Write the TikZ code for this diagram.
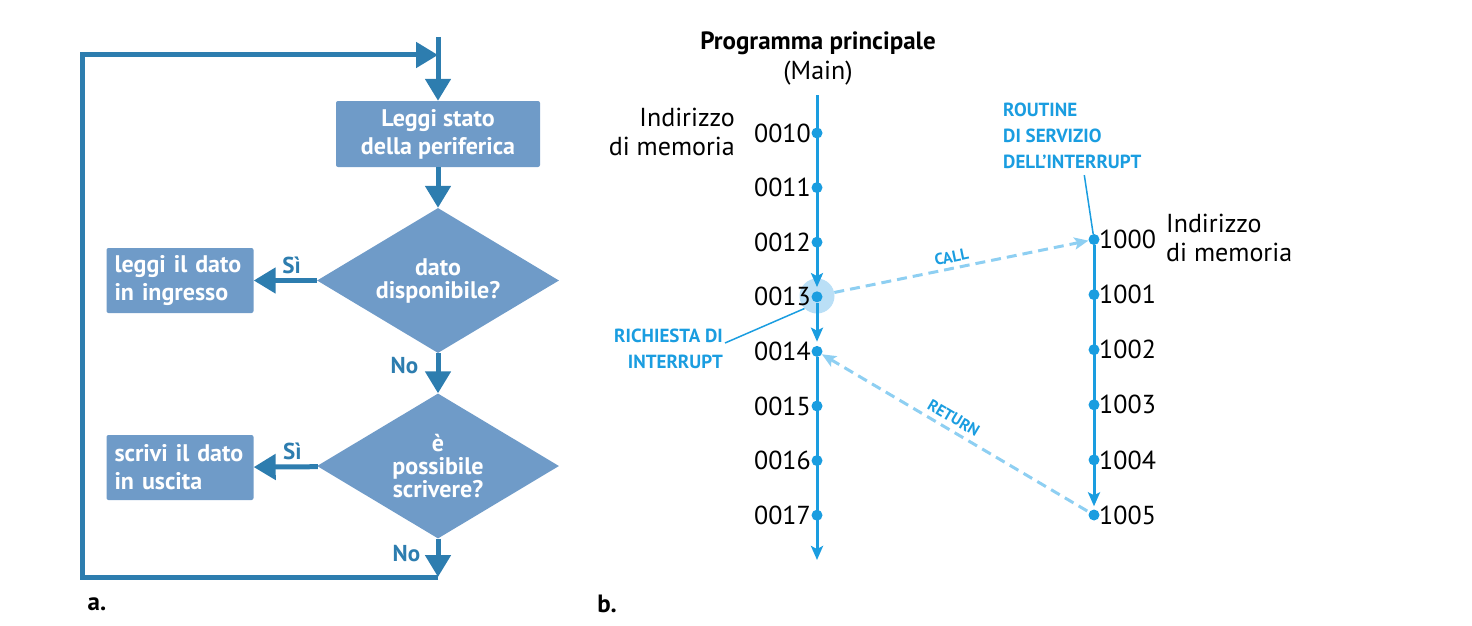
\documentclass[tikz,border=0pt]{standalone}
\usepackage{fontspec}
\setmainfont{PT Sans}
\usetikzlibrary{arrows.meta}
\usetikzlibrary{shapes.geometric}
\usetikzlibrary{positioning}

\definecolor{flowdark}{HTML}{2D7DAF}
\definecolor{flowfill}{HTML}{6F9BC8}
\definecolor{cyanline}{HTML}{1A9DE0}
\definecolor{cyanlight}{HTML}{8ECFF2}
\definecolor{cyanhalo}{HTML}{BADFF6}

\tikzset{
  flowbox/.style={rectangle, rounded corners=2pt, fill=flowfill, text=white, inner sep=0pt,
    font=\fontsize{24}{28}\selectfont\bfseries},
  flowdiam/.style={diamond, aspect=1.67, fill=flowfill, text=white, inner sep=0pt, minimum width=242pt,
    minimum height=145pt, align=center, font=\fontsize{24}{23}\selectfont\bfseries},
  flowarrow/.style={draw=flowdark, line width=5pt, -{Triangle[length=22pt,width=25pt]}},
  flowtag/.style={text=flowdark, font=\fontsize{23}{26}\selectfont\bfseries},
  memdot/.style={circle, fill=cyanline, inner sep=0pt, minimum size=11pt},
  memnum/.style={font=\fontsize{26}{29}\selectfont},
  memline/.style={draw=cyanline, line width=3pt, -{Stealth[length=14pt,width=12pt,inset=3pt]}},
  jumpline/.style={draw=cyanlight, line width=3pt, dash pattern=on 10pt off 6pt,
    -{Stealth[length=14pt,width=12pt,inset=3pt]}},
  cyantag/.style={text=cyanline, font=\fontsize{19}{26}\selectfont\bfseries},
  jumptag/.style={text=cyanline, font=\fontsize{16}{18}\selectfont\bfseries, inner sep=2pt},
  panel/.style={font=\fontsize{25}{28}\selectfont\bfseries},
}

\begin{document}
\begin{tikzpicture}[x=1pt,y=-1pt]
	\useasboundingbox (0,0) rectangle (1472,626);

	% a. flowchart
	\node[flowbox, minimum width=204pt, minimum height=66pt, align=center] (stato) at (438,134) {Leggi stato\\della periferica};
	\node[flowdiam] (disp) at (438,280.5) {dato\\disponibile?};
	\node[flowdiam] (scriv) at (438,466) {è\\possibile\\scrivere?};
	\node[flowbox, minimum width=147pt, minimum height=65pt, text width=131pt, align=left] (ingr) at (180,280.5) {leggi il dato\\in ingresso};
	\node[flowbox, minimum width=147pt, minimum height=65pt, text width=131pt, align=left] (usc) at (180,467.5) {scrivi il dato\\in uscita};

	\coordinate (entry) at (438,37);
	\coordinate (join) at (438,55);
	\coordinate (bottom) at (438,577);

	\draw[flowarrow] (entry) -- (stato);
	\draw[flowarrow] (stato) -- (disp);
	\draw[flowarrow] (disp) -- node[flowtag, above=1pt, pos=0.4] {Sì} (ingr);
	\draw[flowarrow] (disp) -- node[flowtag, left=14pt, pos=0.3] {No} (scriv);
	\draw[flowarrow] (scriv) -- node[flowtag, above=1pt, pos=0.4] {Sì} (usc);
	\draw[flowarrow] (scriv) -- node[flowtag, left=12pt, pos=0.4] {No} (bottom);
	\draw[flowarrow] (bottom) -- ++(-356,0) |- (join);

	\node[panel] (pa) at (97,604) {a.};

	% b. interrupt
	\node[circle, fill=cyanhalo, inner sep=0pt, minimum size=35pt] (h) at (817,296) {};

	\node[panel] (title) at (818,43) {Programma principale};
	\node[memnum] (main) at (818,73) {(Main)};
	\node[memnum, align=right, anchor=east, inner sep=0pt] (addrl) at (735,132) {Indirizzo\\di memoria};
	\node[memnum, align=left, anchor=west, inner sep=0pt] (addrr) at (1166,238) {Indirizzo\\di memoria};

	\foreach \n [count=\i from 0] in {0010,0011,0012,0013,0014,0015,0016,0017}
		\node[memdot, label={[memnum, label distance=-3pt]left:\n}] (m\i) at (817,{133+54.6*\i}) {};
	\foreach \n [count=\i from 0] in {1000,1001,1002,1003,1004,1005}
		\node[memdot, label={[memnum, label distance=-4pt]right:\n}] (r\i) at (1094,{239.5+55.1*\i}) {};

	\coordinate (mtop) at (817,95);
	\coordinate (mend) at (817,560);
	\draw[memline, shorten >=4pt] (mtop) -- (m3);
	\draw[memline, shorten >=4pt] (m3) -- (m4);
	\draw[memline] (m4) -- (mend);
	\draw[memline, shorten >=3pt] (r0) -- (r5);

	\draw[jumpline] (h) -- node[jumptag, sloped, above=2pt, pos=0.47] {CALL} (r0);
	\draw[jumpline, {Stealth[length=14pt,width=12pt,inset=3pt]}-] (m4) -- node[jumptag, sloped, above=3pt, pos=0.47] {RETURN} (r5);

	\node[cyantag, align=right, anchor=east, inner sep=2pt] (rq) at (725,349) {RICHIESTA DI\\INTERRUPT};
	\node[cyantag, align=left, anchor=west, inner sep=2pt] (rt) at (1001,136) {ROUTINE\\DI SERVIZIO\\DELL’INTERRUPT};
	\draw[cyanline, line width=1.5pt] ([yshift=6pt]rq.east) -- (h.south west);
	\draw[cyanline, line width=1.5pt] ([shift={(12pt,-4pt)}]rt.south) -- (r0);

	\node[panel] (pb) at (607,604) {b.};
\end{tikzpicture}
\end{document}
